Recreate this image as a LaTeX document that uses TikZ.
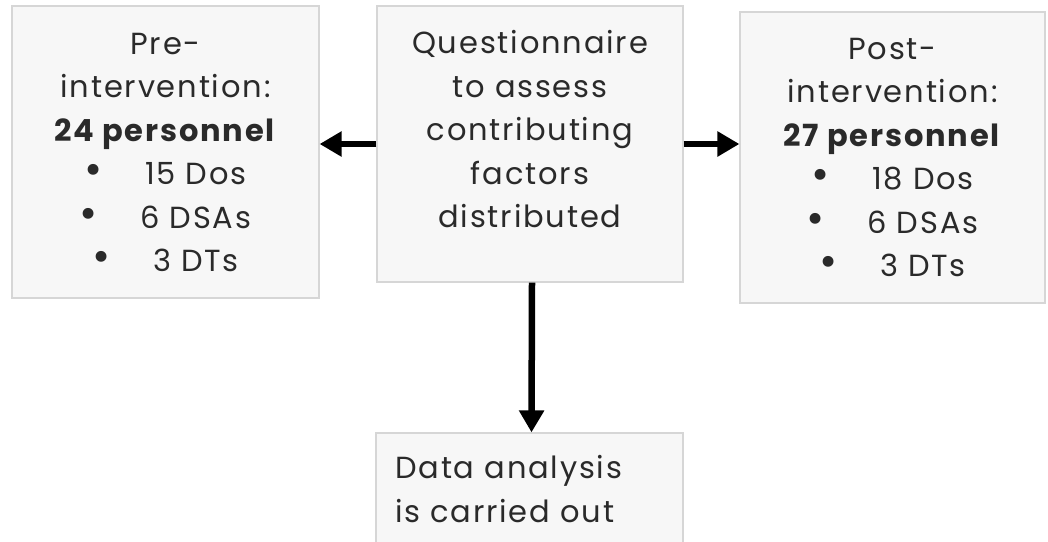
\documentclass[tikz,border=0pt]{standalone}
\usepackage{fontspec}
\setmainfont{Poppins}[LetterSpace=6]
\usetikzlibrary{arrows.meta}
\definecolor{boxfill}{HTML}{F7F7F7}
\definecolor{boxline}{HTML}{D6D6D6}
\definecolor{txt}{HTML}{2A2A2A}
\tikzset{
  box/.style={draw=boxline, fill=boxfill, line width=1.2pt, inner sep=0pt},
  lbl/.style={text=txt, align=center, font=\fontsize{30.5}{43.5}\selectfont, inner sep=0pt},
  arr/.style={line width=6.5pt, -{Triangle[length=22pt,width=24pt]}, black}
}
\newcommand{\bul}{{\fontsize{44}{43.5}\selectfont\textbullet}\hspace{1.4em}}
\begin{document}
\begin{tikzpicture}[x=1pt,y=-1pt]
\useasboundingbox (0,0) rectangle (1048,541);
\fill[white] (0,0) rectangle (1048,541);
\begin{scope}
\clip (0,0) rectangle (1048,541);
\node[box, minimum width=307pt, minimum height=292pt] (l) at (165.5,152) {};
\node[box, minimum width=306pt, minimum height=276pt] (c) at (530,144) {};
\node[box, minimum width=305pt, minimum height=291pt] (r) at (892.5,157.5) {};
\node[box, minimum width=307pt, minimum height=160pt] (b) at (529.5,513) {};
\end{scope}
\node[lbl] (lt) at (165.5,152.5) {Pre-\\intervention:\\\textbf{24 personnel}\\\bul 15 Dos\\\bul 6 DSAs\\\bul 3 DTs};
\node[lbl] (ct) at (530,129.5) {Questionnaire\\to assess\\contributing\\factors\\distributed};
\node[lbl] (rt) at (892.5,157.5) {Post-\\intervention:\\\textbf{27 personnel}\\\bul 18 Dos\\\bul 6 DSAs\\\bul 3 DTs};
\node[lbl, align=left, anchor=base west] (bt) at (395,522) {Data analysis\\is carried out};
\draw[arr] (c.west) -- (l.east |- c.west);
\draw[arr] (c.east) -- (r.west |- c.east);
\draw[arr] ([xshift=2pt]c.south) -- ([xshift=2pt]b.north);
\end{tikzpicture}
\end{document}
